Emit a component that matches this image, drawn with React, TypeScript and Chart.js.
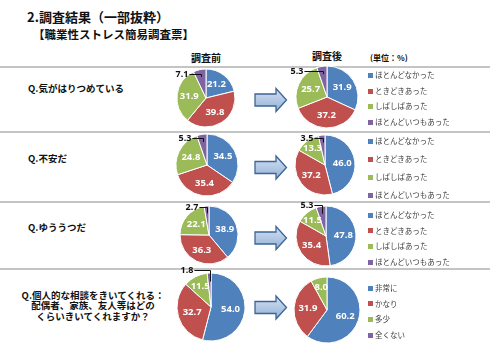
import React, { useEffect, useRef } from "react";
import { Chart, registerables } from "chart.js";

Chart.register(...registerables);

// ---------- data ----------
const questions = [
  "Q.気がはりつめている",
  "Q.不安だ",
  "Q.ゆううつだ",
  "Q.個人的な相談をきいてくれる：\n配偶者、家族、友人等はどの\nくらいきいてくれますか？",
];
const stressCategories = ["ほとんどなかった", "ときどきあった", "しばしばあった", "ほとんどいつもあった"];
const supportCategories = ["非常に", "かなり", "多少", "全くない"];

const tenseBefore = [21.2, 39.8, 31.9, 7.1];
const tenseAfter = [31.9, 37.2, 25.7, 5.3];
const anxiousBefore = [34.5, 35.4, 24.8, 5.3];
const anxiousAfter = [46.0, 37.2, 13.3, 3.5];
const depressedBefore = [38.9, 36.3, 22.1, 2.7];
const depressedAfter = [47.8, 35.4, 11.5, 5.3];
const supportBefore = [54.0, 32.7, 11.5, 1.8];
const supportAfter = [60.2, 31.9, 8.0, 0];

const beforeSeries = [tenseBefore, anxiousBefore, depressedBefore, supportBefore];
const afterSeries = [tenseAfter, anxiousAfter, depressedAfter, supportAfter];
const legendSets = [stressCategories, stressCategories, stressCategories, supportCategories];

const titleText = "2.調査結果（一部抜粋）";
const subtitleText = "【職業性ストレス簡易調査票】";
const beforeHeader = "調査前";
const afterHeader = "調査後";
const unitText = "(単位：%)";

// ---------- style / layout ----------
const sliceColors = ["#4F81BD", "#C0504D", "#9BBB59", "#8064A2"];
const JP = "'Noto Sans CJK JP', 'Noto Sans', sans-serif";
const NUM = "'Noto Sans', 'Liberation Sans', sans-serif";

// [cx, cy, r] for before / after pies per panel
const beforePies = [
  [206, 98, 29],
  [207, 165, 31],
  [209, 235, 29],
  [211, 307, 34],
];
const afterPies = [
  [327, 97, 31],
  [325, 165, 30],
  [326, 236, 30],
  [327, 310, 33],
];
// outside-label offsets relative to pie centre
const beforeOutside = [
  [-24, -24],
  [-22, -27],
  [-17, -28],
  [-24, -37],
];
const afterOutside = [
  [-30, -26],
  [-18, -27],
  [-19, -31],
  [-20, -30],
];
const separatorYs = [67, 132, 202, 269];
const arrowYs = [100, 167.5, 238, 307.5];
const questionYs = [89, 159, 228];
const legendTops = [75.5, 141, 215, 288];
const legendSteps = [15.5, 18, 15.7, 15.7];

const CW = 110;
const CH = 92;

const valueLabelPlugin = {
  id: "valueLabels",
  afterDatasetsDraw(chart: any, _args: any, opts: any) {
    const ctx = chart.ctx as CanvasRenderingContext2D;
    const meta = chart.getDatasetMeta(0);
    const values = chart.data.datasets[0].data as number[];
    meta.data.forEach((el: any, i: number) => {
      const v = values[i];
      if (!v) return;
      const { x, y, startAngle, endAngle, outerRadius } = el.getProps(
        ["x", "y", "startAngle", "endAngle", "outerRadius"],
        true
      );
      const mid = (startAngle + endAngle) / 2;
      const text = v.toFixed(1);
      ctx.save();
      ctx.textAlign = "center";
      ctx.textBaseline = "middle";
      if (v < 8) {
        const ax = Math.round(x + Math.cos(mid) * outerRadius * 0.75) + 0.5;
        const ay = y + Math.sin(mid) * outerRadius * 0.75;
        const lx = x + opts.outside[0];
        const ly = Math.round(y + opts.outside[1]) + 0.5;
        ctx.font = `bold 9px ${NUM}`;
        ctx.fillStyle = "#111";
        ctx.fillText(text, lx, ly);
        const w = ctx.measureText(text).width;
        ctx.strokeStyle = "#111";
        ctx.lineWidth = 1;
        ctx.beginPath();
        ctx.moveTo(lx + w / 2 + 1, ly);
        ctx.lineTo(ax, ly);
        if (ay > ly) ctx.lineTo(ax, ay);
        ctx.stroke();
      } else {
        const f = v < 15 ? 0.7 : 0.58;
        const tx = x + Math.cos(mid) * outerRadius * f;
        const ty = y + Math.sin(mid) * outerRadius * f;
        ctx.font = `bold 9.5px ${NUM}`;
        ctx.fillStyle = "#ffffff";
        ctx.fillText(text, tx, ty);
      }
      ctx.restore();
    });
  },
};

function Pie(props: { values: number[]; labels: string[]; cx: number; cy: number; r: number; outside: number[] }) {
  const ref = useRef<HTMLCanvasElement>(null);
  const { values, labels, cx, cy, r, outside } = props;
  useEffect(() => {
    const chart = new Chart(ref.current as HTMLCanvasElement, {
      type: "pie",
      data: {
        labels,
        datasets: [
          {
            data: values,
            backgroundColor: sliceColors,
            borderColor: "#ffffff",
            borderWidth: 1,
            radius: r,
          } as any,
        ],
      },
      options: {
        responsive: false,
        animation: false,
        devicePixelRatio: 1,
        events: [],
        layout: { padding: 0 },
        plugins: {
          legend: { display: false },
          tooltip: { enabled: false },
          valueLabels: { outside },
        } as any,
      },
      plugins: [valueLabelPlugin as any],
    });
    return () => chart.destroy();
  }, []);
  return (
    <canvas
      ref={ref}
      width={CW}
      height={CH}
      style={{ position: "absolute", left: cx - CW / 2, top: cy - CH / 2, width: CW, height: CH }}
    />
  );
}

function Txt(props: { x: number; y: number; size: number; bold?: boolean; color?: string; children: any }) {
  return (
    <div
      style={{
        position: "absolute",
        left: props.x,
        top: props.y - props.size * 0.55,
        fontSize: props.size,
        lineHeight: `${props.size}px`,
        fontFamily: JP,
        fontWeight: props.bold ? 700 : 400,
        color: props.color || "#111",
        whiteSpace: "nowrap",
      }}
    >
      {props.children}
    </div>
  );
}

export default function App() {
  return (
    <div
      style={{
        position: "absolute",
        left: 0,
        top: 0,
        width: 490,
        height: 346,
        background: "#ffffff",
        overflow: "hidden",
      }}
    >
      <svg width={490} height={346} style={{ position: "absolute", left: 0, top: 0 }}>
        <defs>
          <linearGradient id="arrowFill" x1="0" y1="0" x2="0" y2="1">
            <stop offset="0" stopColor="#d3e0f1" />
            <stop offset="1" stopColor="#93b1d8" />
          </linearGradient>
        </defs>
        {separatorYs.map((y, i) => (
          <rect key={i} x={0} y={y - 1} width={490} height={2} fill="#c4c4c4" />
        ))}
        {arrowYs.map((c, i) => (
          <polygon
            key={i}
            points={`255,${c - 6} 276,${c - 6} 276,${c - 11.5} 286.5,${c} 276,${c + 11.5} 276,${c + 6} 255,${c + 6}`}
            fill="url(#arrowFill)"
            stroke="#3d6495"
            strokeWidth={1.3}
            strokeLinejoin="miter"
          />
        ))}
      </svg>

      <Txt x={27} y={17} size={13} bold>{titleText}</Txt>
      <Txt x={33} y={35} size={11.5} bold>{subtitleText}</Txt>
      <Txt x={191} y={58} size={10} bold>{beforeHeader}</Txt>
      <Txt x={312} y={56} size={10} bold>{afterHeader}</Txt>
      <Txt x={370} y={58} size={8} bold>{unitText}</Txt>

      {questions.slice(0, 3).map((q, i) => (
        <Txt key={i} x={28} y={questionYs[i]} size={9.5} bold>{q}</Txt>
      ))}
      <div
        style={{
          position: "absolute",
          left: 13,
          top: 289.5,
          width: 160,
          textAlign: "center",
          fontSize: 9.5,
          lineHeight: "10.5px",
          fontFamily: JP,
          fontWeight: 700,
          color: "#111",
          whiteSpace: "pre",
        }}
      >
        {questions[3]}
      </div>

      {beforeSeries.map((vals, i) => (
        <Pie
          key={`b${i}`}
          values={vals}
          labels={legendSets[i]}
          cx={beforePies[i][0]}
          cy={beforePies[i][1]}
          r={beforePies[i][2]}
          outside={beforeOutside[i]}
        />
      ))}
      {afterSeries.map((vals, i) => (
        <Pie
          key={`a${i}`}
          values={vals}
          labels={legendSets[i]}
          cx={afterPies[i][0]}
          cy={afterPies[i][1]}
          r={afterPies[i][2]}
          outside={afterOutside[i]}
        />
      ))}

      {legendSets.map((cats, p) =>
        cats.map((c, j) => {
          const y = legendTops[p] + j * legendSteps[p];
          return (
            <React.Fragment key={`l${p}-${j}`}>
              <div
                style={{
                  position: "absolute",
                  left: 368,
                  top: y - 2.5,
                  width: 5,
                  height: 5,
                  background: sliceColors[j],
                }}
              />
              <Txt x={375} y={y} size={7.5} color="#404040">{c}</Txt>
            </React.Fragment>
          );
        })
      )}
    </div>
  );
}
